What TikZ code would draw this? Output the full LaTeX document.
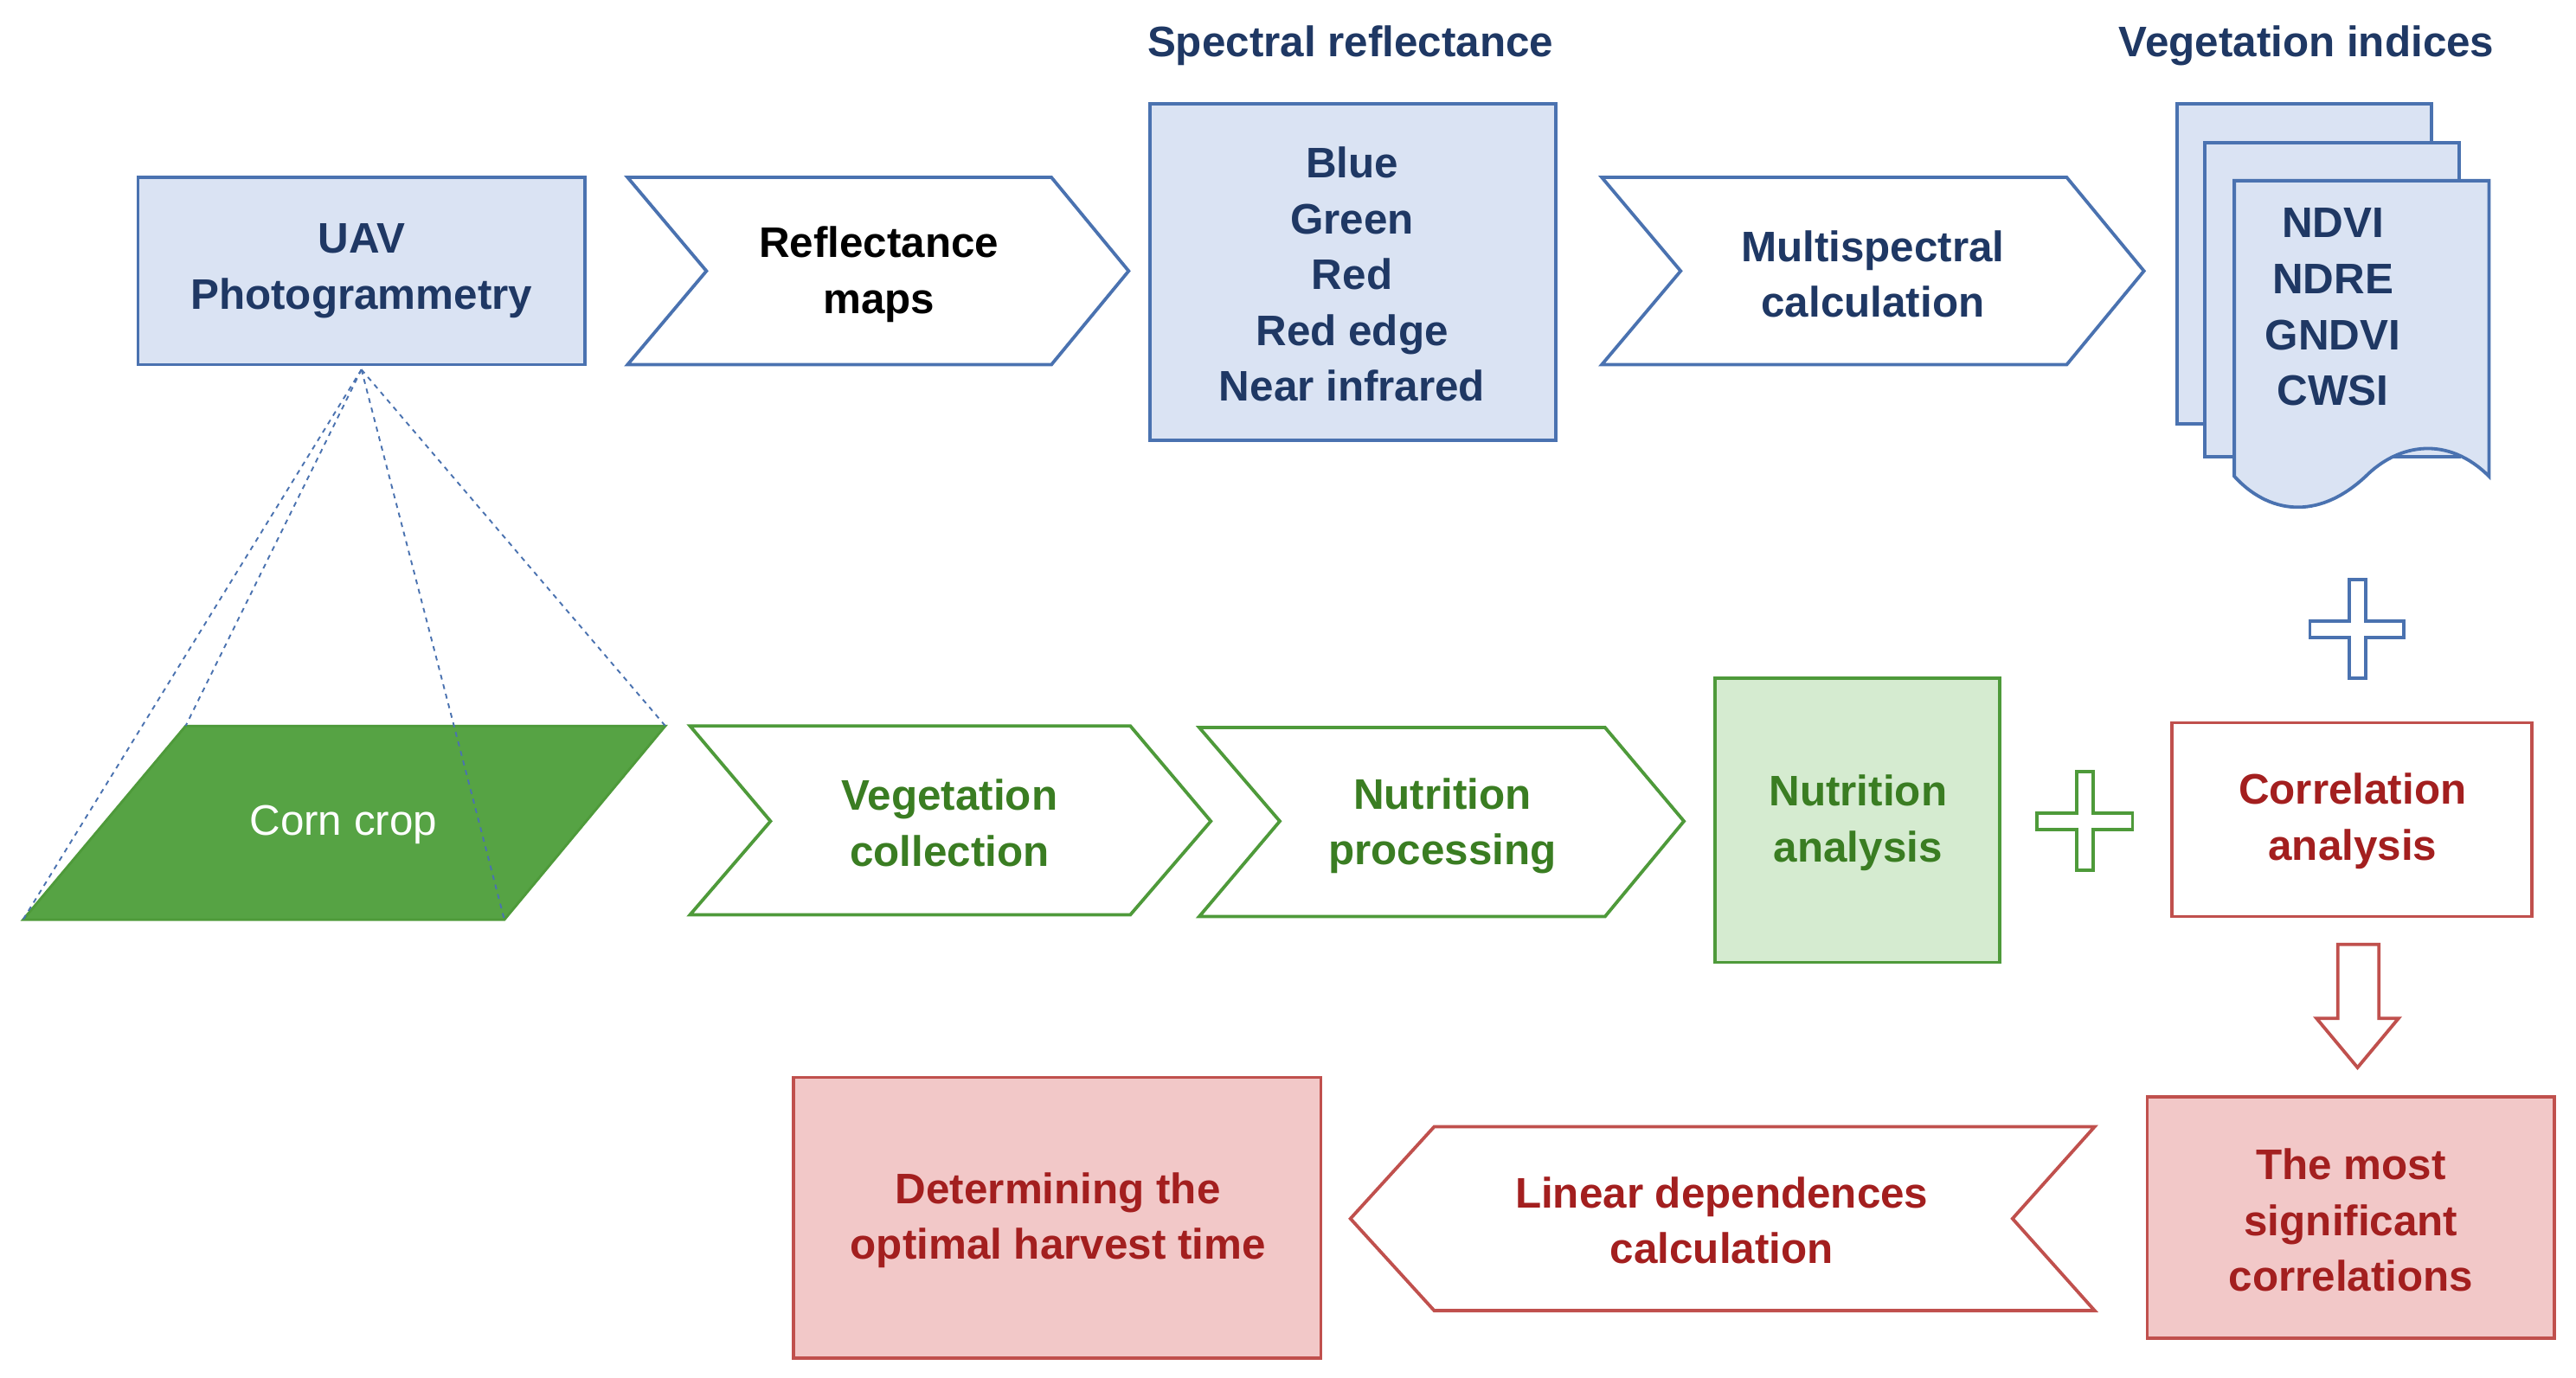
\documentclass[tikz,border=0pt]{standalone}
\usepackage{fontspec}
\setmainfont{Liberation Sans}
\definecolor{bfill}{HTML}{DAE3F3}
\definecolor{bline}{HTML}{4A72B0}
\definecolor{btext}{HTML}{1F3864}
\definecolor{gdark}{HTML}{56A344}
\definecolor{gline}{HTML}{4E9A3A}
\definecolor{gtext}{HTML}{3A7D22}
\definecolor{glight}{HTML}{D5EBD0}
\definecolor{rtext}{HTML}{A31F1F}
\definecolor{rline}{HTML}{C0504D}
\definecolor{rfill}{HTML}{F2C8C8}
\begin{document}
\begin{tikzpicture}[x=1pt,y=-1pt,
  lbl/.style={font=\fontsize{26}{34}\selectfont\bfseries,align=center},
  bl/.style={draw=bline,line width=2pt},
  gl/.style={draw=gline,line width=2pt},
  rl/.style={draw=rline,line width=2pt}]
\useasboundingbox (0,0) rectangle (1568,839);
\fill[white] (0,0) rectangle (1568,839);
% top row
\draw[bl,fill=bfill] (84,108) rectangle (356,222);
\node[lbl,text=btext] (uav) at (220,165) {UAV\\Photogrammetry};
\draw[bl,fill=white] (382,108)--(640,108)--(687,165)--(640,222)--(382,222)--(430,165)--cycle;
\node[lbl,text=black] (refl) at (535,167) {Reflectance\\maps};
\draw[bl,fill=bfill] (700,63) rectangle (947,268);
\node[lbl,text=btext] (spec) at (823,167) {Blue\\Green\\Red\\Red edge\\Near infrared};
\node[lbl,text=btext] (spect) at (822,28) {Spectral reflectance};
\draw[bl,fill=white] (975,108)--(1258,108)--(1305,165)--(1258,222)--(975,222)--(1023,165)--cycle;
\node[lbl,text=btext] (multi) at (1140,167) {Multispectral\\calculation};
\node[lbl,text=btext] (vegt) at (1404,28) {Vegetation indices};
\draw[bl,fill=bfill] (1325,63) rectangle (1480,258);
\draw[bl,fill=bfill] (1342,87) rectangle (1497,278);
\draw[bl,fill=bfill] (1360,110)--(1515,110)--(1515,290) .. controls (1490,265) and (1460,270) .. (1440,290) .. controls (1410,318) and (1380,312) .. (1360,290)--cycle;
\node[lbl,text=btext] (veg) at (1420,187) {NDVI\\NDRE\\GNDVI\\CWSI};
\draw[bl,fill=white] (1430,353)--(1440,353)--(1440,378)--(1463,378)--(1463,388)--(1440,388)--(1440,413)--(1430,413)--(1430,388)--(1406,388)--(1406,378)--(1430,378)--cycle;
% middle row
\coordinate (apex) at (220,225);
\coordinate (c1) at (14,560); \coordinate (c2) at (113,442);
\coordinate (c3) at (307,560); \coordinate (c4) at (405,442);
\draw[gline,line width=1.5pt,fill=gdark] (c2)--(c4)--(c3)--(c1)--cycle;
\foreach \c in {c1,c2,c3,c4} \draw[bline,dashed,line width=1pt] (apex)--(\c);
\node[font=\fontsize{26}{34}\selectfont,text=white] (corn) at (209,502) {Corn crop};
\draw[gl,fill=white] (420,442)--(688,442)--(737,500)--(688,557)--(420,557)--(469,500)--cycle;
\node[lbl,text=gtext] (vc) at (578,501) {Vegetation\\collection};
\draw[gl,fill=white] (730,443)--(977,443)--(1025,500)--(977,558)--(730,558)--(779,500)--cycle;
\node[lbl,text=gtext] (np) at (878,503) {Nutrition\\processing};
\draw[gl,fill=glight] (1044,413) rectangle (1217,586);
\node[lbl,text=gtext] (na) at (1131,501) {Nutrition\\analysis};
\draw[gl,fill=white] (1264,470)--(1274,470)--(1274,495)--(1298,495)--(1298,505)--(1274,505)--(1274,530)--(1264,530)--(1264,505)--(1240,505)--(1240,495)--(1264,495)--cycle;
\draw[rl,fill=white] (1322,440) rectangle (1541,558);
\node[lbl,text=rtext] (ca) at (1432,500) {Correlation\\analysis};
\draw[rl,fill=white] (1423,575)--(1448,575)--(1448,620)--(1460,620)--(1435,650)--(1410,620)--(1423,620)--cycle;
% bottom row
\draw[rl,fill=rfill] (1307,668) rectangle (1555,815);
\node[lbl,text=rtext] (ms) at (1431,743) {The most\\significant\\correlations};
\draw[rl,fill=white] (1275,686)--(873,686)--(822,742)--(873,798)--(1275,798)--(1225,742)--cycle;
\node[lbl,text=rtext] (ld) at (1048,743) {Linear dependences\\calculation};
\draw[rl,fill=rfill] (483,656) rectangle (804,827);
\node[lbl,text=rtext] (dh) at (644,743) {Determining the\\optimal harvest time};
\end{tikzpicture}
\end{document}
